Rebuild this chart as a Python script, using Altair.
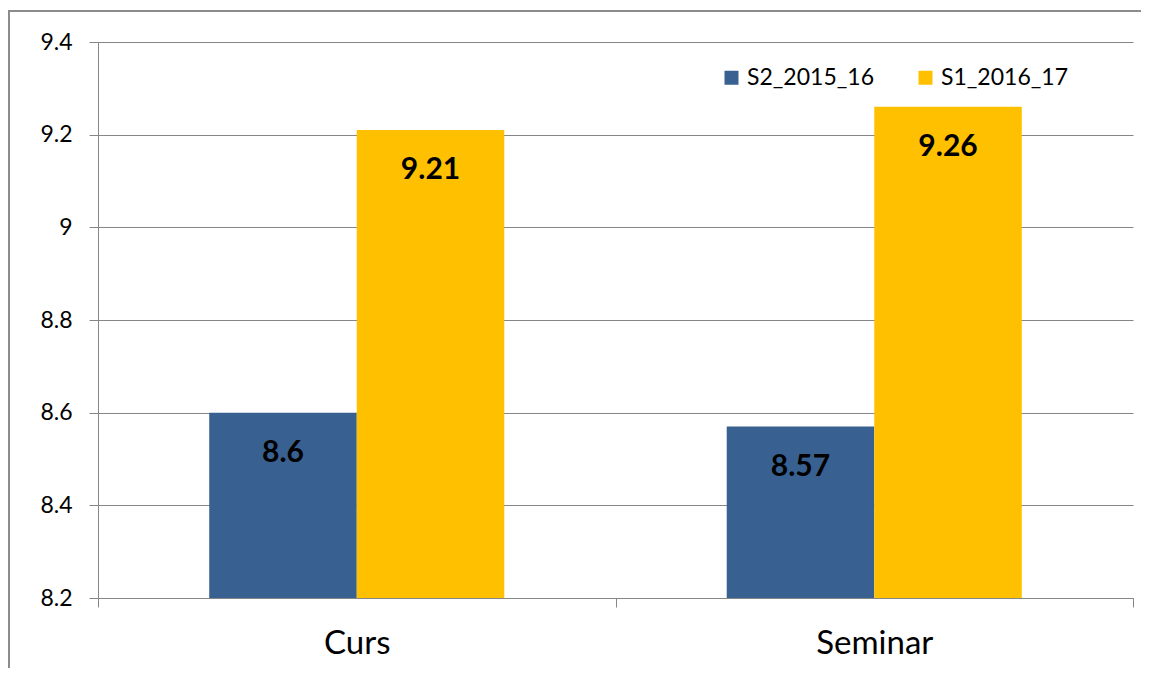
import altair as alt
import pandas as pd

categories = ["Curs", "Seminar"]
series = ["S2_2015_16", "S1_2016_17"]
s2_values = [8.6, 8.57]
s1_values = [9.21, 9.26]
colors = ["#386090", "#FFC000"]
y_ticks = [8.2, 8.4, 8.6, 8.8, 9.0, 9.2, 9.4]
y_min, y_max = 8.2, 9.4

rows = []
for i, c in enumerate(categories):
    rows.append({"category": c, "series": series[0], "value": s2_values[i]})
    rows.append({"category": c, "series": series[1], "value": s1_values[i]})
df = pd.DataFrame(rows)

W, H = 1035, 556
FONT = "Lato"

base = alt.Chart(df).encode(
    x=alt.X("category:N", sort=categories,
            scale=alt.Scale(paddingInner=0, paddingOuter=0),
            axis=alt.Axis(title=None, labelAngle=0, tickBand="extent",
                          labelFontSize=33, labelColor="#000000",
                          labelPadding=20, tickSize=9, tickColor="#868686",
                          domainColor="#868686", grid=False)),
    xOffset=alt.XOffset("series:N", sort=series,
                        scale=alt.Scale(paddingInner=0, paddingOuter=0.754)),
)

bars = base.mark_bar().encode(
    y=alt.Y("value:Q",
            scale=alt.Scale(domain=[y_min, y_max], zero=False, nice=False),
            axis=alt.Axis(title=None, values=y_ticks, format="~g",
                          labelFontSize=23, labelColor="#000000",
                          labelPadding=17, tickSize=9, tickColor="#868686",
                          domainColor="#868686", gridColor="#868686",
                          grid=True)),
    y2=alt.datum(y_min),
    color=alt.Color("series:N", sort=series,
                    scale=alt.Scale(domain=series, range=colors),
                    legend=alt.Legend(title=None, orient="none",
                                      legendX=622, legendY=24,
                                      direction="horizontal",
                                      symbolType="square", symbolSize=196,
                                      symbolStrokeWidth=0,
                                      labelFontSize=23, labelColor="#000000",
                                      labelOffset=4, columnPadding=40)),
)

labels = base.mark_text(fontSize=30, fontWeight="bold", color="#000000",
                        baseline="middle", dy=40).encode(
    y=alt.Y("value:Q"),
    text=alt.Text("value:Q", format="~g"),
)

one = pd.DataFrame({"a": [0]})
frame_left = alt.Chart(one).mark_rule(
    stroke="#8c8c8c", strokeWidth=2, clip=False
).encode(x=alt.value(-89), y=alt.value(-32), y2=alt.value(626))
frame_top = alt.Chart(one).mark_rule(
    stroke="#8c8c8c", strokeWidth=2, clip=False
).encode(y=alt.value(-31), x=alt.value(-90), x2=alt.value(1043))

chart = alt.layer(frame_left, frame_top, bars, labels).properties(
    width=W, height=H,
    autosize=alt.AutoSizeParams(type="none"),
    padding={"left": 90, "top": 34, "right": 8, "bottom": 70},
).configure(font=FONT).configure_view(stroke=None).configure_axis(
    labelFont=FONT
).configure_legend(labelFont=FONT)

chart.save("out.html", embed_options={"renderer": "svg", "actions": False})
